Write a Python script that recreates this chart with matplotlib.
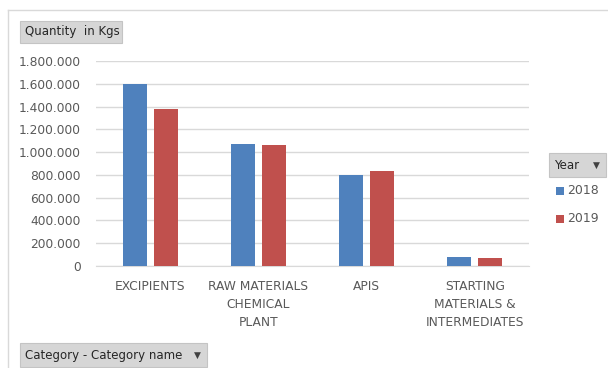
import matplotlib.pyplot as plt
from matplotlib.patches import FancyBboxPatch, Rectangle
from matplotlib.lines import Line2D
from matplotlib.ticker import FuncFormatter
import numpy as np

# quantities per category (kg)
CATEGORIES = ["EXCIPIENTS", "RAW MATERIALS\nCHEMICAL\nPLANT", "APIS",
              "STARTING\nMATERIALS &\nINTERMEDIATES"]
QTY_2018 = [1600000, 1074000, 802000, 79000]
QTY_2019 = [1376000, 1065000, 830000, 70000]
YEARS = ["2018", "2019"]
COLORS = ["#4F81BD", "#C0504D"]
TEXT = "#595959"
GRID = "#D9D9D9"

fig = plt.figure(figsize=(6.08, 3.68), dpi=100)
W, H = 608, 368

def fx(px):
    return px / W

def fy(py):
    return 1 - py / H

# outer frame of the pivot chart
fig.add_artist(Line2D([fx(8), fx(8)], [fy(10), 0], color=GRID, lw=1))
fig.add_artist(Line2D([fx(8), 1], [fy(10), fy(10)], color=GRID, lw=1))

ax = fig.add_axes([fx(96), fy(266), fx(529) - fx(96), fy(61) - fy(266)])
x = np.arange(len(CATEGORIES))
w = 0.22
off = 0.143
ax.bar(x - off, QTY_2018, w, color=COLORS[0], zorder=3)
ax.bar(x + off, QTY_2019, w, color=COLORS[1], zorder=3)

ax.set_xlim(-0.5, len(CATEGORIES) - 0.5)
ax.set_ylim(0, 1800000)
ax.set_yticks(np.arange(0, 1800001, 200000))
ax.yaxis.set_major_formatter(FuncFormatter(lambda v, p: f"{v:,.0f}".replace(",", ".")))
ax.grid(axis="y", color=GRID, lw=1, zorder=0)
ax.set_xticks(x)
ax.set_xticklabels(CATEGORIES, linespacing=1.5)
ax.tick_params(axis="both", length=0, labelsize=8.8, labelcolor=TEXT)
ax.tick_params(axis="y", pad=11)
ax.tick_params(axis="x", pad=10)
for s in ["top", "right", "left"]:
    ax.spines[s].set_visible(False)
ax.spines["bottom"].set_color(GRID)


def button(x0, y0, x1, y1, label, arrow=False):
    fig.add_artist(FancyBboxPatch((fx(x0), fy(y1)), fx(x1) - fx(x0), fy(y0) - fy(y1),
                                  boxstyle="square,pad=0", fc="#D6D6D6", ec="#C4C4C4", lw=0.8))
    fig.text(fx(x0 + 5), fy((y0 + y1) / 2), label, fontsize=8.5, color="#262626",
             va="center", ha="left")
    if arrow:
        fig.text(fx(x1 - 10), fy((y0 + y1) / 2), "\u25BC", fontsize=6.5,
                 color="#404040", va="center", ha="center")


button(20, 21, 122, 43, "Quantity  in Kgs")
button(549, 153, 606, 177, "Year", arrow=True)
button(20, 343, 207, 367, "Category - Category name", arrow=True)

# legend entries
for i, (yr, c) in enumerate(zip(YEARS, COLORS)):
    yc = 191 + i * 28
    fig.add_artist(Rectangle((fx(556), fy(yc + 4)), fx(8), fy(0) - fy(8), fc=c, ec="none"))
    fig.text(fx(567), fy(yc), yr, fontsize=9, color=TEXT, va="center", ha="left")

fig.savefig("out.png", dpi=100)
